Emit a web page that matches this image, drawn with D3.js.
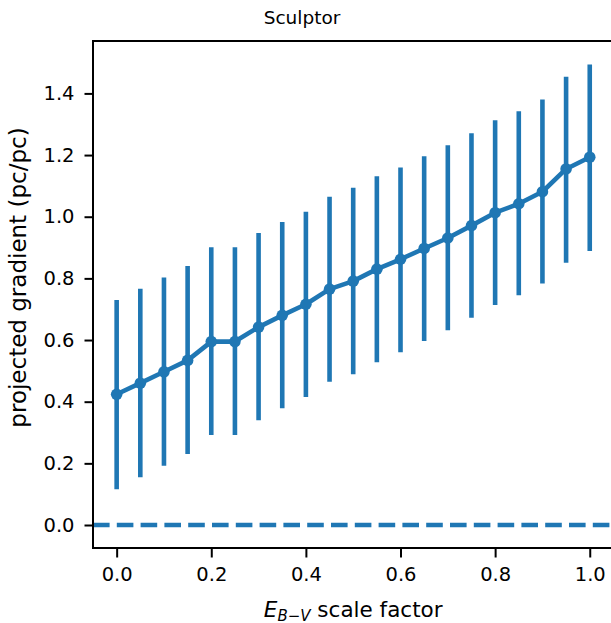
<!DOCTYPE html>
<html>
<head>
<meta charset="utf-8">
<script src="https://cdn.jsdelivr.net/npm/d3@7"></script>
<style>
  html, body { margin: 0; padding: 0; background: #fff; }
  text { font-family: "DejaVu Sans", sans-serif; fill: #000; }
</style>
</head>
<body>
<svg id="chart" width="611" height="623"></svg>
<script>
// ---- data ----
const scaleFactor = [0.00, 0.05, 0.10, 0.15, 0.20, 0.25, 0.30, 0.35, 0.40, 0.45, 0.50,
                     0.55, 0.60, 0.65, 0.70, 0.75, 0.80, 0.85, 0.90, 0.95, 1.00];
const gradient = [0.424, 0.460, 0.497, 0.534, 0.595, 0.595, 0.642, 0.680, 0.716, 0.765, 0.791,
                  0.830, 0.862, 0.897, 0.931, 0.971, 1.013, 1.042, 1.081, 1.155, 1.193];
const lowerErr = [0.116, 0.155, 0.192, 0.230, 0.292, 0.292, 0.340, 0.379, 0.415, 0.465, 0.489,
                  0.528, 0.560, 0.597, 0.632, 0.672, 0.714, 0.745, 0.783, 0.851, 0.889];
const upperErr = [0.730, 0.766, 0.803, 0.840, 0.901, 0.901, 0.947, 0.983, 1.016, 1.065, 1.094,
                  1.131, 1.160, 1.196, 1.232, 1.271, 1.313, 1.342, 1.380, 1.454, 1.494];
const xTicks = [0.0, 0.2, 0.4, 0.6, 0.8, 1.0];
const yTicks = [0.0, 0.2, 0.4, 0.6, 0.8, 1.0, 1.2, 1.4];
const refLine = [0.0];
const titleText = "Sculptor";

const color = "#1f77b4";
const svg = d3.select("#chart");
const pLeft = 93, pRight = 613.4, pTop = 41, pBottom = 548;

const x = d3.scaleLinear().domain([-0.05, 1.05]).range([pLeft, pRight]);
const y = d3.scaleLinear().domain([-0.0746, 1.570]).range([pBottom, pTop]);

const data = scaleFactor.map((s, i) => ({x: s, y: gradient[i], lo: lowerErr[i], hi: upperErr[i]}));

svg.append("defs").append("clipPath").attr("id", "clip")
  .append("rect").attr("x", pLeft).attr("y", pTop).attr("width", pRight - pLeft).attr("height", pBottom - pTop);

const plot = svg.append("g").attr("clip-path", "url(#clip)");

// dashed reference line
plot.selectAll("line.ref").data(refLine).enter().append("line")
  .attr("x1", pLeft).attr("x2", pRight)
  .attr("y1", d => y(d)).attr("y2", d => y(d))
  .attr("stroke", color).attr("stroke-width", 4.5)
  .attr("stroke-dasharray", "16.6,7.2");

// error bars
plot.selectAll("line.err").data(data).enter().append("line")
  .attr("x1", d => x(d.x)).attr("x2", d => x(d.x))
  .attr("y1", d => y(d.lo)).attr("y2", d => y(d.hi))
  .attr("stroke", color).attr("stroke-width", 4.6);

// connecting line
plot.append("path").datum(data)
  .attr("d", d3.line().x(d => x(d.x)).y(d => y(d.y)))
  .attr("fill", "none").attr("stroke", color).attr("stroke-width", 4.6)
  .attr("stroke-linejoin", "round");

// markers
plot.selectAll("circle").data(data).enter().append("circle")
  .attr("cx", d => x(d.x)).attr("cy", d => y(d.y)).attr("r", 5.8)
  .attr("fill", color);

// axes
const xAxis = d3.axisBottom(x).tickValues(xTicks).tickFormat(d3.format(".1f"))
  .tickSize(9.5).tickPadding(5).tickSizeOuter(0);
const gx = svg.append("g").attr("transform", `translate(0,${pBottom})`).call(xAxis);
const yAxis = d3.axisLeft(y).tickValues(yTicks).tickFormat(d3.format(".1f"))
  .tickSize(8.5).tickPadding(10).tickSizeOuter(0);
const gy = svg.append("g").attr("transform", `translate(${pLeft},0)`).call(yAxis);

[gx, gy].forEach(g => {
  g.select(".domain").remove();
  g.selectAll(".tick line").attr("stroke", "#000").attr("stroke-width", 2);
  g.selectAll(".tick text").attr("font-size", 19.5).attr("font-family", "DejaVu Sans").attr("fill", "#000");
});
gx.selectAll(".tick text").attr("dy", "0.95em");

// spines
svg.append("line").attr("x1", pLeft).attr("x2", pLeft).attr("y1", pTop - 1).attr("y2", pBottom + 1)
  .attr("stroke", "#000").attr("stroke-width", 2);
svg.append("line").attr("x1", pLeft - 1).attr("x2", 620).attr("y1", pTop).attr("y2", pTop)
  .attr("stroke", "#000").attr("stroke-width", 2);
svg.append("line").attr("x1", pLeft - 1).attr("x2", 620).attr("y1", pBottom).attr("y2", pBottom)
  .attr("stroke", "#000").attr("stroke-width", 2);

// title
svg.append("text").attr("x", 302).attr("y", 24)
  .attr("text-anchor", "middle").attr("font-size", 18.5).text(titleText);

// x label
const xl = svg.append("text").attr("x", (pLeft + pRight) / 2).attr("y", 616.5)
  .attr("text-anchor", "middle").attr("font-size", 21.5);
xl.append("tspan").attr("font-style", "italic").text("E");
xl.append("tspan").attr("font-size", 15).attr("dy", 4).attr("font-style", "italic").text("B");
xl.append("tspan").attr("font-size", 15).text("\u2212");
xl.append("tspan").attr("font-size", 15).attr("font-style", "italic").text("V");
xl.append("tspan").attr("dy", -4).text(" scale factor");

// y label
svg.append("text").attr("transform", `translate(26,277.5) rotate(-90)`)
  .attr("text-anchor", "middle").attr("font-size", 23).text("projected gradient (pc/pc)");
</script>
</body>
</html>
